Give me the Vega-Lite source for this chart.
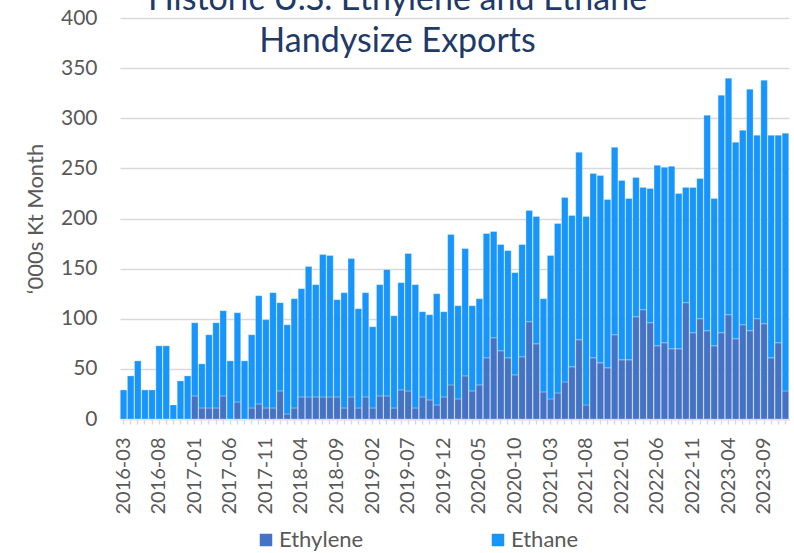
{
  "$schema": "https://vega.github.io/schema/vega-lite/v6.json",
  "width": 669,
  "height": 401,
  "autosize": {"type": "none"},
  "padding": {"left": 120, "top": 18, "right": 5, "bottom": 134},
  "background": "#ffffff",
  "title": {
    "text": ["Historic U.S. Ethylene and Ethane", "Handysize Exports"],
    "font": "Lato",
    "fontSize": 34,
    "fontWeight": "normal",
    "color": "#1F3A68",
    "lineHeight": 42,
    "anchor": "middle",
    "dx": -57,
    "dy": 56
  },
  "data": {
    "values": [
      {"month": "2016-03", "Ethylene": 0, "Ethane": 29},
      {"month": "2016-04", "Ethylene": 0, "Ethane": 43},
      {"month": "2016-05", "Ethylene": 0, "Ethane": 58},
      {"month": "2016-06", "Ethylene": 0, "Ethane": 29},
      {"month": "2016-07", "Ethylene": 0, "Ethane": 29},
      {"month": "2016-08", "Ethylene": 0, "Ethane": 73},
      {"month": "2016-09", "Ethylene": 0, "Ethane": 73},
      {"month": "2016-10", "Ethylene": 0, "Ethane": 14},
      {"month": "2016-11", "Ethylene": 0, "Ethane": 38},
      {"month": "2016-12", "Ethylene": 0, "Ethane": 43},
      {"month": "2017-01", "Ethylene": 23, "Ethane": 73},
      {"month": "2017-02", "Ethylene": 11, "Ethane": 44},
      {"month": "2017-03", "Ethylene": 11, "Ethane": 73},
      {"month": "2017-04", "Ethylene": 11, "Ethane": 85},
      {"month": "2017-05", "Ethylene": 23, "Ethane": 85},
      {"month": "2017-06", "Ethylene": 0, "Ethane": 58},
      {"month": "2017-07", "Ethylene": 17, "Ethane": 89},
      {"month": "2017-08", "Ethylene": 0, "Ethane": 58},
      {"month": "2017-09", "Ethylene": 11, "Ethane": 73},
      {"month": "2017-10", "Ethylene": 15, "Ethane": 108},
      {"month": "2017-11", "Ethylene": 11, "Ethane": 88},
      {"month": "2017-12", "Ethylene": 11, "Ethane": 115},
      {"month": "2018-01", "Ethylene": 28, "Ethane": 88},
      {"month": "2018-02", "Ethylene": 5, "Ethane": 89},
      {"month": "2018-03", "Ethylene": 11, "Ethane": 109},
      {"month": "2018-04", "Ethylene": 22, "Ethane": 108},
      {"month": "2018-05", "Ethylene": 22, "Ethane": 130},
      {"month": "2018-06", "Ethylene": 22, "Ethane": 112},
      {"month": "2018-07", "Ethylene": 22, "Ethane": 142},
      {"month": "2018-08", "Ethylene": 22, "Ethane": 141},
      {"month": "2018-09", "Ethylene": 22, "Ethane": 97},
      {"month": "2018-10", "Ethylene": 11, "Ethane": 115},
      {"month": "2018-11", "Ethylene": 22, "Ethane": 138},
      {"month": "2018-12", "Ethylene": 11, "Ethane": 99},
      {"month": "2019-01", "Ethylene": 22, "Ethane": 104},
      {"month": "2019-02", "Ethylene": 11, "Ethane": 81},
      {"month": "2019-03", "Ethylene": 23, "Ethane": 111},
      {"month": "2019-04", "Ethylene": 23, "Ethane": 126},
      {"month": "2019-05", "Ethylene": 11, "Ethane": 92},
      {"month": "2019-06", "Ethylene": 29, "Ethane": 107},
      {"month": "2019-07", "Ethylene": 28, "Ethane": 137},
      {"month": "2019-08", "Ethylene": 11, "Ethane": 123},
      {"month": "2019-09", "Ethylene": 22, "Ethane": 85},
      {"month": "2019-10", "Ethylene": 19, "Ethane": 85},
      {"month": "2019-11", "Ethylene": 14, "Ethane": 111},
      {"month": "2019-12", "Ethylene": 22, "Ethane": 85},
      {"month": "2020-01", "Ethylene": 34, "Ethane": 150},
      {"month": "2020-02", "Ethylene": 20, "Ethane": 93},
      {"month": "2020-03", "Ethylene": 43, "Ethane": 127},
      {"month": "2020-04", "Ethylene": 28, "Ethane": 85},
      {"month": "2020-05", "Ethylene": 34, "Ethane": 86},
      {"month": "2020-06", "Ethylene": 61, "Ethane": 124},
      {"month": "2020-07", "Ethylene": 81, "Ethane": 106},
      {"month": "2020-08", "Ethylene": 68, "Ethane": 106},
      {"month": "2020-09", "Ethylene": 61, "Ethane": 107},
      {"month": "2020-10", "Ethylene": 44, "Ethane": 102},
      {"month": "2020-11", "Ethylene": 62, "Ethane": 112},
      {"month": "2020-12", "Ethylene": 97, "Ethane": 111},
      {"month": "2021-01", "Ethylene": 75, "Ethane": 127},
      {"month": "2021-02", "Ethylene": 27, "Ethane": 93},
      {"month": "2021-03", "Ethylene": 20, "Ethane": 143},
      {"month": "2021-04", "Ethylene": 26, "Ethane": 169},
      {"month": "2021-05", "Ethylene": 37, "Ethane": 184},
      {"month": "2021-06", "Ethylene": 52, "Ethane": 151},
      {"month": "2021-07", "Ethylene": 79, "Ethane": 187},
      {"month": "2021-08", "Ethylene": 14, "Ethane": 188},
      {"month": "2021-09", "Ethylene": 61, "Ethane": 184},
      {"month": "2021-10", "Ethylene": 56, "Ethane": 187},
      {"month": "2021-11", "Ethylene": 51, "Ethane": 168},
      {"month": "2021-12", "Ethylene": 84, "Ethane": 187},
      {"month": "2022-01", "Ethylene": 59, "Ethane": 179},
      {"month": "2022-02", "Ethylene": 59, "Ethane": 161},
      {"month": "2022-03", "Ethylene": 102, "Ethane": 139},
      {"month": "2022-04", "Ethylene": 109, "Ethane": 122},
      {"month": "2022-05", "Ethylene": 96, "Ethane": 134},
      {"month": "2022-06", "Ethylene": 73, "Ethane": 180},
      {"month": "2022-07", "Ethylene": 76, "Ethane": 175},
      {"month": "2022-08", "Ethylene": 70, "Ethane": 182},
      {"month": "2022-09", "Ethylene": 70, "Ethane": 155},
      {"month": "2022-10", "Ethylene": 116, "Ethane": 115},
      {"month": "2022-11", "Ethylene": 86, "Ethane": 145},
      {"month": "2022-12", "Ethylene": 100, "Ethane": 140},
      {"month": "2023-01", "Ethylene": 88, "Ethane": 215},
      {"month": "2023-02", "Ethylene": 73, "Ethane": 147},
      {"month": "2023-03", "Ethylene": 86, "Ethane": 237},
      {"month": "2023-04", "Ethylene": 104, "Ethane": 236},
      {"month": "2023-05", "Ethylene": 80, "Ethane": 196},
      {"month": "2023-06", "Ethylene": 94, "Ethane": 194},
      {"month": "2023-07", "Ethylene": 88, "Ethane": 241},
      {"month": "2023-08", "Ethylene": 100, "Ethane": 183},
      {"month": "2023-09", "Ethylene": 95, "Ethane": 243},
      {"month": "2023-10", "Ethylene": 61, "Ethane": 222},
      {"month": "2023-11", "Ethylene": 76, "Ethane": 207},
      {"month": "2023-12", "Ethylene": 28, "Ethane": 257}
    ]
  },
  "transform": [
    {"fold": ["Ethylene", "Ethane"], "as": ["product", "amount"]}
  ],
  "mark": {"type": "bar", "stroke": "#ffffff", "strokeOpacity": 0.35, "strokeWidth": 0.8},
  "encoding": {
    "x": {
      "field": "month",
      "type": "ordinal",
      "scale": {"paddingInner": 0.08, "paddingOuter": 0.04},
      "axis": {
        "title": null,
        "labelAngle": 270,
        "labelFont": "Lato",
        "labelFontSize": 20,
        "labelColor": "#595959",
        "labelPadding": 13,
        "labelOverlap": false,
        "labelExpr": "(toNumber(slice(datum.value,0,4))*12 + toNumber(slice(datum.value,5,7)) - 24195) % 5 == 0 ? datum.value : ''",
        "tickColor": "#D9D9D9",
        "tickSize": 5,
        "tickWidth": 1.5,
        "domainColor": "#D9D9D9",
        "domainWidth": 1.5
      }
    },
    "y": {
      "field": "amount",
      "type": "quantitative",
      "scale": {"domain": [0, 400], "nice": false},
      "axis": {
        "title": "‘000s Kt Month",
        "titleFont": "Lato",
        "titleFontSize": 22,
        "titleFontWeight": "normal",
        "titleColor": "#595959",
        "titlePadding": 13,
        "values": [0, 50, 100, 150, 200, 250, 300, 350, 400],
        "labelFont": "Lato",
        "labelFontSize": 21,
        "labelColor": "#595959",
        "labelPadding": 23,
        "ticks": false,
        "domain": false,
        "gridColor": "#D9D9D9",
        "gridWidth": 1.5
      }
    },
    "color": {
      "field": "product",
      "type": "nominal",
      "scale": {"domain": ["Ethylene", "Ethane"], "range": ["#4472C4", "#1795FB"]},
      "legend": {
        "title": null,
        "orient": "none",
        "legendX": 135,
        "legendY": 511,
        "direction": "horizontal",
        "symbolType": "square",
        "symbolSize": 196,
        "labelFont": "Lato",
        "labelFontSize": 22,
        "labelColor": "#595959",
        "labelOffset": 2,
        "columnPadding": 123
      }
    }
  },
  "config": {"view": {"stroke": null}}
}
